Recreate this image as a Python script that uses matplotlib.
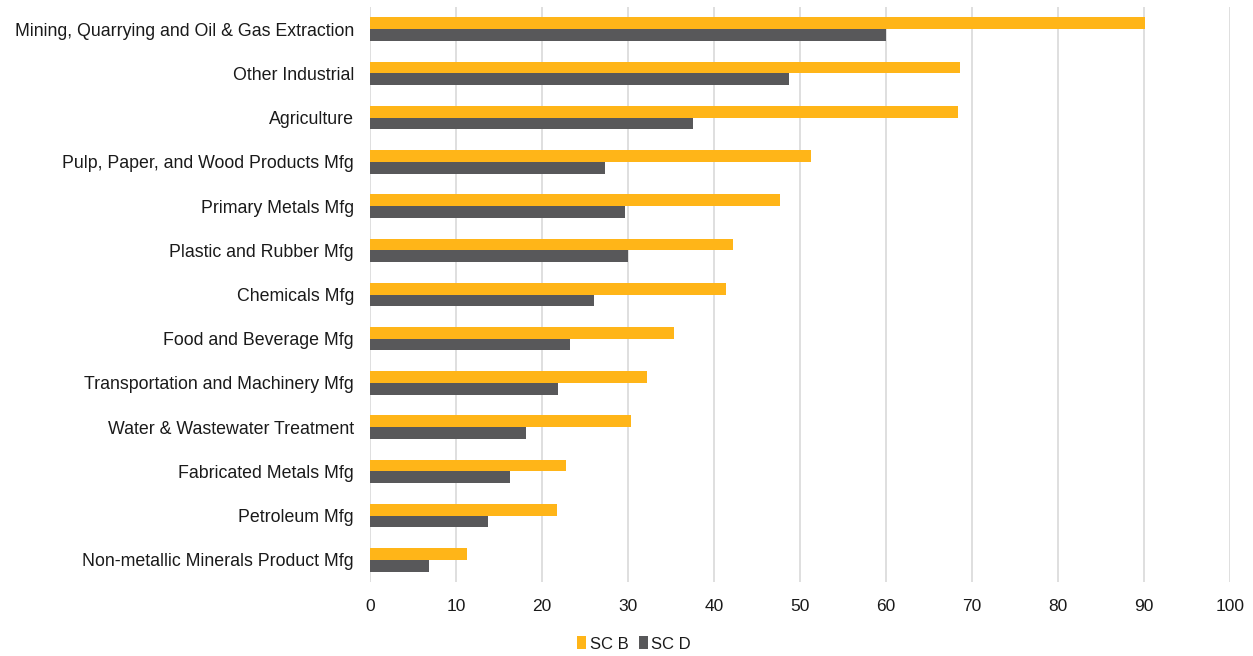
import numpy as np
import matplotlib
matplotlib.use("Agg")
import matplotlib.pyplot as plt

plt.rcParams['font.family'] = ['Liberation Sans', 'DejaVu Sans']

categories = ["Mining, Quarrying and Oil & Gas Extraction", "Other Industrial", "Agriculture",
              "Pulp, Paper, and Wood Products Mfg", "Primary Metals Mfg", "Plastic and Rubber Mfg",
              "Chemicals Mfg", "Food and Beverage Mfg", "Transportation and Machinery Mfg",
              "Water & Wastewater Treatment", "Fabricated Metals Mfg", "Petroleum Mfg",
              "Non-metallic Minerals Product Mfg"]
sc_b = [90.1, 68.6, 68.4, 51.3, 47.7, 42.2, 41.4, 35.4, 32.2, 30.4, 22.8, 21.7, 11.3]
sc_d = [60.0, 48.7, 37.5, 27.3, 29.7, 30.0, 26.1, 23.3, 21.9, 18.1, 16.3, 13.7, 6.9]

YELLOW = '#FFB518'
GREY = '#58585A'
TXT = '#1a1a1a'

fig = plt.figure(figsize=(12.53, 6.56), dpi=100)
ax = fig.add_axes([370/1253, 1 - 582/656, 860/1253, 575/656])

y = np.arange(len(categories))
h = 0.265
ax.barh(y - h/2, sc_b, height=h, color=YELLOW, label='SC B', zorder=3)
ax.barh(y + h/2, sc_d, height=h, color=GREY, label='SC D', zorder=3)

ax.set_ylim(len(categories) - 0.5, -0.5)
ax.set_xlim(0, 100)
ax.set_xticks(range(0, 101, 10))
ax.set_yticks(y)
ax.set_yticklabels(categories, fontsize=12.8, color=TXT)
ax.tick_params(axis='x', labelsize=12.5, colors=TXT, length=0, pad=12)
ax.tick_params(axis='y', length=0, pad=11.5)
ax.xaxis.grid(True, color='#D9D9D9', linewidth=1.2, zorder=0)
for s in ax.spines.values():
    s.set_visible(False)

ax.legend(loc='center', bbox_to_anchor=((634 - 370) / 860, -62 / 575),
          ncol=2, frameon=False, fontsize=12, handlelength=0.55, handleheight=0.8,
          handletextpad=0.2, columnspacing=0.6, labelcolor=TXT)

fig.savefig("out.png", dpi=100)
